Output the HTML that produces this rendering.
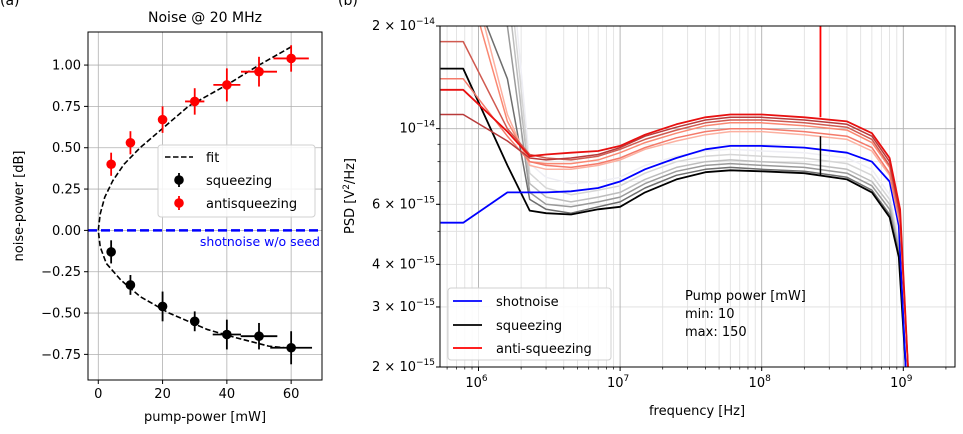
<!DOCTYPE html>
<html><head><meta charset="utf-8"><style>
html,body{margin:0;padding:0;background:#fff;}
svg{display:block;font-family:"DejaVu Sans","Liberation Sans",sans-serif;}
</style></head><body>
<svg id="fig" width="963" height="434" viewBox="0 0 963 434" xmlns="http://www.w3.org/2000/svg">
<text x="0" y="5" font-size="14">(a)</text>
<text x="338" y="5" font-size="14">(b)</text>
<g id="left"></g>
<g id="right"></g>
</svg>
<script>
// ---------- Left chart data ----------
const pumpPower = [4,10,20,30,40,50,60];
const antiValues = [0.40,0.53,0.67,0.78,0.88,0.96,1.04];
const antiYErr = [0.07,0.07,0.08,0.08,0.1,0.09,0.08];
const antiXErr = [0,0,0,3,4.2,5.6,5.5];
const squeezeValues = [-0.13,-0.33,-0.46,-0.55,-0.63,-0.64,-0.71];
const squeezeYErr = [0.07,0.06,0.09,0.06,0.09,0.08,0.1];
const squeezeXErr = [0,0,0,0,4.4,5.7,6.5];
const fitY = [1.11,1.0,0.88,0.75,0.6,0.5,0.4,0.3,0.2,0.1,0,-0.1,-0.2,-0.3,-0.4,-0.5,-0.6,-0.65,-0.7,-0.71];
const fitX = [60,50,40,28,19,13,8,4.5,2,0.6,0,0.6,2.5,7,13,22,34,43,53,58];
const leftXTicks = [0,20,40,60];
const leftYTicks = [1.00,0.75,0.50,0.25,0.00,-0.25,-0.50,-0.75];

// ---------- Right chart data (PSD in units of 1e-15 V^2/Hz) ----------
const freqs = [5.4e5,7.8e5,1.6e6,2.3e6,3e6,4.5e6,7e6,1e7,1.5e7,2.5e7,4e7,6e7,1e8,2e8,4e8,6e8,8e8,9.3e8,1.04e9];
const redFreqs = [5.4e5,7.8e5,1.6e6,2.3e6,3e6,4.5e6,7e6,1e7,1.5e7,2.5e7,4e7,6e7,1e8,2e8,4e8,6e8,8e8,9.5e8,1.08e9];
const grey5 = [80,70,40,7.9,7.2,6.9,7.0,7.2,7.8,8.3,8.6,8.7,8.6,8.5,8.2,7.6,6.4,4.7,2.0];
const grey4 = [70,60,32,7.4,6.7,6.4,6.6,6.8,7.4,8.0,8.3,8.4,8.3,8.2,7.9,7.3,6.2,4.6,2.0];
const grey3 = [60,50,26,6.9,6.3,6.1,6.3,6.5,7.1,7.7,8.0,8.1,8.0,7.9,7.6,7.0,6.0,4.5,2.0];
const grey2 = [50,40,20,6.5,6.0,5.9,6.1,6.3,6.9,7.5,7.8,7.9,7.8,7.7,7.4,6.8,5.8,4.4,2.0];
const grey1 = [40,30,14,6.2,5.8,5.65,5.9,6.1,6.7,7.3,7.6,7.7,7.6,7.5,7.2,6.6,5.6,4.3,2.0];
const squeezePSD = [15,15,7.8,5.75,5.65,5.6,5.8,5.9,6.5,7.1,7.45,7.55,7.5,7.4,7.1,6.5,5.5,4.2,2.0];
const shotPSD = [5.3,5.3,6.5,6.5,6.5,6.55,6.7,7.0,7.6,8.2,8.7,8.9,8.9,8.8,8.5,8.0,7.0,5.2,2.0];
const redF = [50,35,11,7.8,7.6,7.6,7.8,8.1,8.7,9.2,9.6,9.8,9.8,9.6,9.3,8.6,7.3,5.2,2.0];
const redE = [40,30,10.5,8.0,7.9,7.9,8.1,8.5,9.1,9.7,10.2,10.4,10.4,10.2,9.9,9.1,7.7,5.4,2.0];
const redB = [14,14,9.5,8.0,7.8,7.7,7.9,8.2,8.8,9.4,9.8,10.0,10.0,9.8,9.5,8.8,7.4,5.3,2.0];
const redA = [18,18,10,8.4,8.2,8.1,8.3,8.7,9.3,9.9,10.4,10.6,10.6,10.4,10.1,9.3,7.8,5.5,2.0];
const redD = [11,11,9.2,8.2,8.1,8.2,8.4,8.8,9.5,10.1,10.6,10.8,10.8,10.6,10.3,9.5,8.0,5.6,2.0];
const redC = [13,13,9.8,8.3,8.4,8.5,8.6,8.9,9.6,10.3,10.8,11.0,11.0,10.8,10.5,9.7,8.2,5.8,2.0];
const spikeFreq = 2.6e8;
const redSpikeTop = 25;
const blackSpikeTop = 9.5;
const rightYTickVals = [2,3,4,6,10,20];
const rightXDecades = [6,7,8,9];

const NS="http://www.w3.org/2000/svg";
function mk(parent,tag,attrs,text){const e=document.createElementNS(NS,tag);for(const k in attrs)e.setAttribute(k,attrs[k]);if(text!==undefined)e.textContent=text;parent.appendChild(e);return e;}

// ===== LEFT =====
const L=document.getElementById('left');
const lx0=88,lx1=322,ly0=32,ly1=380;
const lxMin=-3.2,lxMax=69.6,lyMin=-0.905,lyMax=1.2;
const sx=v=>lx0+(v-lxMin)/(lxMax-lxMin)*(lx1-lx0);
const sy=v=>ly1-(v-lyMin)/(lyMax-lyMin)*(ly1-ly0);
mk(L,'defs',{}).innerHTML='<clipPath id="lclip"><rect x="88" y="32" width="234" height="348"/></clipPath><clipPath id="rclip"><rect x="440" y="26" width="515" height="341"/></clipPath>';
leftXTicks.forEach(t=>{
  const g=mk(L,'line',{x1:sx(t),x2:sx(t),y1:ly0,y2:ly1,stroke:'#b0b0b0','stroke-width':0.8});
  
  mk(L,'line',{x1:sx(t),x2:sx(t),y1:ly1,y2:ly1+4,stroke:'#000'});
  const tl=mk(L,'text',{x:sx(t),y:ly1+18,'font-size':13,'text-anchor':'middle'},String(t));
  
});
leftYTicks.forEach(t=>{
  const g=mk(L,'line',{x1:lx0,x2:lx1,y1:sy(t),y2:sy(t),stroke:'#b0b0b0','stroke-width':0.8});
  
  mk(L,'line',{x1:lx0-4,x2:lx0,y1:sy(t),y2:sy(t),stroke:'#000'});
  const tl=mk(L,'text',{x:lx0-7,y:sy(t)+4.5,'font-size':13,'text-anchor':'end'},t.toFixed(2).replace('-','\u2212'));
  
});
const lg=mk(L,'g',{'clip-path':'url(#lclip)'});
let sn=mk(lg,'line',{x1:lx0,x2:lx1,y1:sy(0),y2:sy(0),stroke:'#0000ff','stroke-width':2.5,'stroke-dasharray':'9,4'});

let fp=mk(lg,'path',{d:fitX.map((x,i)=>(i?'L':'M')+sx(x)+','+sy(fitY[i])).join(''),fill:'none',stroke:'#000','stroke-width':1.6,'stroke-dasharray':'5.5,2.5'});

function pts(vals,yerr,xerr,col,name){
  pumpPower.forEach((x,i)=>{
    const g=mk(lg,'g',{});
    
    mk(g,'line',{x1:sx(x),x2:sx(x),y1:sy(vals[i]-yerr[i]),y2:sy(vals[i]+yerr[i]),stroke:col,'stroke-width':1.8});
    if(xerr[i]>0)mk(g,'line',{x1:sx(x-xerr[i]),x2:sx(x+xerr[i]),y1:sy(vals[i]),y2:sy(vals[i]),stroke:col,'stroke-width':1.8});
    mk(g,'circle',{cx:sx(x),cy:sy(vals[i]),r:4.8,fill:col});
  });
}
pts(antiValues,antiYErr,antiXErr,'#ff0000','antisqueezing-point');
pts(squeezeValues,squeezeYErr,squeezeXErr,'#000000','squeezing-point');
mk(L,'rect',{x:lx0,y:ly0,width:lx1-lx0,height:ly1-ly0,fill:'none',stroke:'#000','stroke-width':1});
let st=mk(L,'text',{x:320,y:246,'font-size':12.5,fill:'#0000ff','text-anchor':'end'},'shotnoise w/o seed');

let tt=mk(L,'text',{x:205,y:22,'font-size':14,'text-anchor':'middle'},'Noise @ 20 MHz');

let xt=mk(L,'text',{x:205,y:421,'font-size':13,'text-anchor':'middle'},'pump-power [mW]');

let yt=mk(L,'text',{x:0,y:0,'font-size':13,'text-anchor':'middle',transform:'translate(23,206) rotate(-90)'},'noise-power [dB]');

const leg=mk(L,'g',{});

mk(leg,'rect',{x:158,y:145,width:157,height:72,rx:3,fill:'#fff','fill-opacity':0.85,stroke:'#d0d0d0'});
mk(leg,'line',{x1:165,x2:193,y1:157,y2:157,stroke:'#000','stroke-width':1.6,'stroke-dasharray':'5.5,2.5'});
mk(leg,'text',{x:206,y:162,'font-size':13},'fit');
mk(leg,'line',{x1:179,x2:179,y1:173,y2:187,stroke:'#000','stroke-width':1.8});
mk(leg,'circle',{cx:179,cy:180,r:4.8,fill:'#000'});
mk(leg,'text',{x:206,y:185,'font-size':13},'squeezing');
mk(leg,'line',{x1:179,x2:179,y1:196,y2:210,stroke:'#f00','stroke-width':1.8});
mk(leg,'circle',{cx:179,cy:203,r:4.8,fill:'#f00'});
mk(leg,'text',{x:206,y:208,'font-size':13},'antisqueezing');

// ===== RIGHT =====
const R=document.getElementById('right');
const rx0=440,rx1=955,ry0=26,ry1=367;
const decPx=141.6, x6=478.5;
const fx=f=>x6+(Math.log10(f)-6)*decPx;
const fy=v=>ry0+(Math.log10(20)-Math.log10(v))*341;
for(let d=5;d<=9;d++){for(let m=2;m<=9;m++){const f=m*Math.pow(10,d);const x=fx(f);if(x<=rx0||x>=rx1)continue;
  const g=mk(R,'line',{x1:x,x2:x,y1:ry0,y2:ry1,stroke:'#dedede','stroke-width':0.8});
  
  mk(R,'line',{x1:x,x2:x,y1:ry1,y2:ry1+2.5,stroke:'#000','stroke-width':0.7});}}
[2,3,4,5,6,7,8,9,20].forEach(v=>{const y=fy(v);
  const g=mk(R,'line',{x1:rx0,x2:rx1,y1:y,y2:y,stroke:'#dedede','stroke-width':0.8});
  
  mk(R,'line',{x1:rx0-2.5,x2:rx0,y1:y,y2:y,stroke:'#000','stroke-width':0.7});});
rightXDecades.forEach(d=>{const x=fx(Math.pow(10,d));
  const g=mk(R,'line',{x1:x,x2:x,y1:ry0,y2:ry1,stroke:'#b0b0b0','stroke-width':0.9});
  
  mk(R,'line',{x1:x,x2:x,y1:ry1,y2:ry1+4,stroke:'#000'});
  const t=mk(R,'text',{x:x-2,y:ry1+20,'font-size':13,'text-anchor':'middle'});
  
  t.innerHTML='10<tspan dy="-6" font-size="9">'+d+'</tspan>';});
{const y=fy(10);const g=mk(R,'line',{x1:rx0,x2:rx1,y1:y,y2:y,stroke:'#b0b0b0','stroke-width':0.9});
 }
rightYTickVals.forEach(v=>{const y=fy(v);
  mk(R,'line',{x1:rx0-4,x2:rx0,y1:y,y2:y,stroke:'#000'});
  const t=mk(R,'text',{x:rx0-5,y:y+4,'font-size':13,'text-anchor':'end'});
  
  let mant,exp;
  if(v===10){mant='';exp='\u221214';} else if(v===20){mant='2 \u00d7 ';exp='\u221214';} else {mant=v+' \u00d7 ';exp='\u221215';}
  t.innerHTML=mant+'10<tspan dy="-6" font-size="9">'+exp+'</tspan>';});
const rg=mk(R,'g',{'clip-path':'url(#rclip)'});
function curve(fr,vals,col,w,name){
  const p=mk(rg,'path',{d:fr.map((f,i)=>(i?'L':'M')+fx(f).toFixed(1)+','+fy(vals[i]).toFixed(1)).join(''),fill:'none',stroke:col,'stroke-width':w,'stroke-linejoin':'round'});
  
}
curve(freqs,grey5,'#eeeef4',1.5,'squeezing-curve-grey');
curve(freqs,grey4,'#d6d6d6',1.5,'squeezing-curve-grey');
curve(freqs,grey3,'#bdbdbd',1.5,'squeezing-curve-grey');
curve(freqs,grey2,'#9a9a9a',1.5,'squeezing-curve-grey');
curve(freqs,grey1,'#6e6e6e',1.5,'squeezing-curve-grey');
curve(freqs,squeezePSD,'#000000',1.8,'squeezing-curve');
curve(freqs,shotPSD,'#0000ff',1.8,'shotnoise-curve');
curve(redFreqs,redF,'#fcb0a0',1.5,'antisqueezing-curve');
curve(redFreqs,redE,'#fa8872',1.5,'antisqueezing-curve');
curve(redFreqs,redB,'#f47a6a',1.5,'antisqueezing-curve');
curve(redFreqs,redA,'#d05a50',1.5,'antisqueezing-curve');
curve(redFreqs,redD,'#b83a3a',1.5,'antisqueezing-curve');
curve(redFreqs,redC,'#e81010',1.8,'antisqueezing-curve');
let bs=mk(rg,'line',{x1:fx(spikeFreq),x2:fx(spikeFreq),y1:fy(blackSpikeTop),y2:fy(7.3),stroke:'#000','stroke-width':1.5});

let rs=mk(rg,'line',{x1:fx(spikeFreq),x2:fx(spikeFreq),y1:fy(redSpikeTop),y2:fy(10.8),stroke:'#f00','stroke-width':1.8});

mk(R,'rect',{x:rx0,y:ry0,width:rx1-rx0,height:ry1-ry0,fill:'none',stroke:'#000','stroke-width':1});
let rxt=mk(R,'text',{x:697,y:415,'font-size':13,'text-anchor':'middle'},'frequency [Hz]');

let ryt=mk(R,'text',{x:0,y:0,'font-size':13,'text-anchor':'middle',transform:'translate(354,196) rotate(-90)'});

ryt.innerHTML='PSD [V<tspan dy="-5" font-size="9">2</tspan><tspan dy="5">/Hz]</tspan>';
const rl=mk(R,'g',{});

mk(rl,'rect',{x:448,y:288,width:163,height:72,rx:3,fill:'#fff','fill-opacity':0.85,stroke:'#d0d0d0'});
[['shotnoise','#0000ff',301],['squeezing','#000',325],['anti-squeezing','#f00',348]].forEach(a=>{
  mk(rl,'line',{x1:453,x2:482,y1:a[2],y2:a[2],stroke:a[1],'stroke-width':1.8});
  mk(rl,'text',{x:496,y:a[2]+5,'font-size':13},a[0]);});
const ann=mk(R,'g',{'font-size':13});

mk(ann,'text',{x:685,y:300},'Pump power [mW]');
mk(ann,'text',{x:685,y:318},'min: 10');
mk(ann,'text',{x:685,y:336},'max: 150');
</script>
</body></html>
